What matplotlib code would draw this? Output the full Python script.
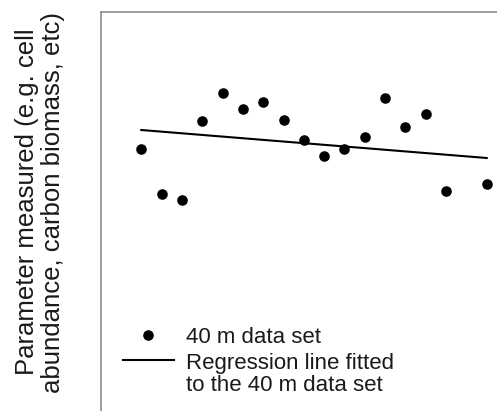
import matplotlib
matplotlib.use("Agg")
import matplotlib.pyplot as plt

# Data (arbitrary units)
x_pts = [1, 2, 3, 4, 5, 6, 7, 8, 9, 10, 11, 12, 13, 14, 15, 16, 18]
y_pts = [26.2, 21.7, 21.1, 29.0, 31.8, 30.2, 30.9, 29.1, 27.1, 25.5,
         26.2, 27.4, 31.3, 28.4, 29.7, 22.0, 22.7]
line_x = [1, 18]
line_y = [28.1, 25.3]

ylabel_text = "Parameter measured (e.g. cell\nabundance, carbon biomass, etc)"
label_points = "40 m data set"
label_line = "Regression line fitted\nto the 40 m data set"

plt.rcParams['font.family'] = ['Liberation Sans', 'DejaVu Sans']

fig = plt.figure(figsize=(4.97, 4.11), dpi=100)
ax = fig.add_axes([101/497, -0.01, 0.81, 1 - 12/411 + 0.01])

pts, = ax.plot(x_pts, y_pts, linestyle='none', marker='o', color='black',
               markersize=6.6, label=label_points)
ln, = ax.plot(line_x, line_y, color='black', linewidth=1.5, label=label_line)

ax.set_xlim(-0.983, 18.83)
ax.set_ylim(-0.41, 39.9)
ax.set_xticks([])
ax.set_yticks([])
for s in ax.spines.values():
    s.set_color('#8c8c8c')
    s.set_linewidth(1.2)

leg = ax.legend(handles=[pts, ln], loc='lower left',
                bbox_to_anchor=(122.7/497, 1 - 396/411),
                bbox_transform=fig.transFigure,
                frameon=False, fontsize=16, borderpad=0, borderaxespad=0,
                handlelength=2.3, handletextpad=0.57, labelspacing=0.25,
                numpoints=1)
for t in leg.get_texts():
    t.set_color('#1a1a1a')
    t.set_linespacing(1.05)
# align the regression-line handle with the first line of its label
h = leg.legend_handles[1]
h.set_ydata([v + 11.0 for v in h.get_ydata()])

fig.text(40/497, 1 - 202/411, ylabel_text, rotation=90, ha='center',
         va='center', multialignment='center', fontsize=18.5,
         color='#1a1a1a', linespacing=1.1)

fig.savefig("out.png", dpi=100)
